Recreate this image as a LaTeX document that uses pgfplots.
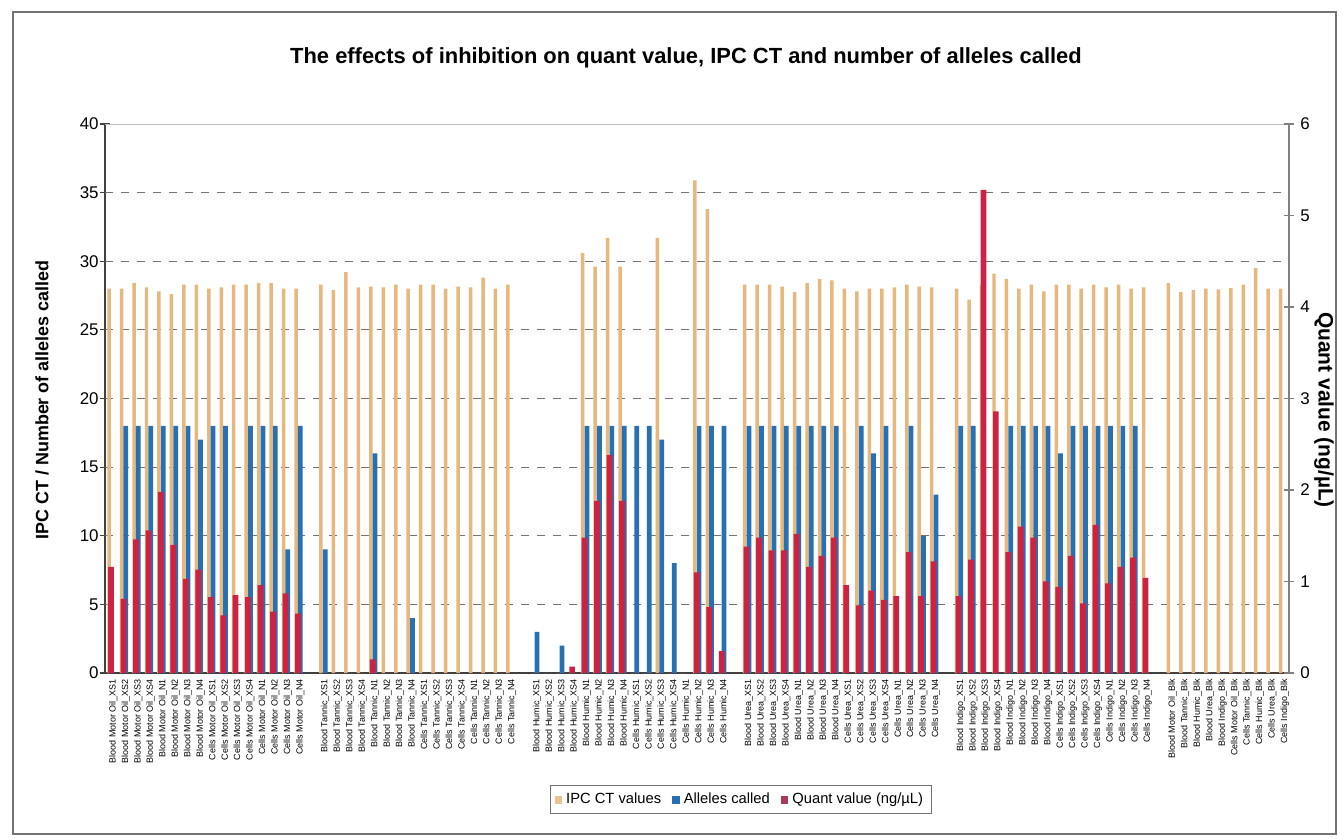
\documentclass[border=0pt]{standalone}
\usepackage{pgfplots}
\pgfplotsset{compat=1.18}
\usepackage{pgfplotstable}
\usepackage{fontspec}
\setmainfont{Liberation Sans}

\definecolor{ipc}{RGB}{231,184,126}
\definecolor{alle}{RGB}{40,112,180}
\definecolor{quant}{RGB}{204,34,68}
\definecolor{quantleg}{RGB}{170,60,90}

% x = slot position (empty slots separate the inhibitor groups)
\pgfplotstableread{
x  ipc   alleles quant
0  28.0  0   1.16
1  28.0  18  0.81
2  28.4  18  1.46
3  28.1  18  1.56
4  27.8  18  1.98
5  27.6  18  1.40
6  28.3  18  1.03
7  28.3  17  1.13
8  28.0  18  0.83
9  28.1  18  0.63
10 28.3  0   0.85
11 28.3  18  0.83
12 28.4  18  0.96
13 28.4  18  0.67
14 28.0  9   0.87
15 28.0  18  0.65
17 28.3  9   0
18 27.9  0   0
19 29.2  0   0
20 28.1  0   0
21 28.15 16  0.15
22 28.1  0   0
23 28.3  0   0
24 28.0  4   0
25 28.3  0   0
26 28.3  0   0
27 28.0  0   0
28 28.15 0   0
29 28.1  0   0
30 28.8  0   0
31 28.0  0   0
32 28.3  0   0
34 0     3   0
35 0     0   0
36 0     2   0
37 0     0   0.07
38 30.6  18  1.48
39 29.6  18  1.88
40 31.7  18  2.38
41 29.6  18  1.88
42 0     18  0
43 0     18  0
44 31.7  17  0
45 0     8   0
46 0     0   0
47 35.9  18  1.10
48 33.8  18  0.72
49 0     18  0.24
51 28.3  18  1.38
52 28.3  18  1.48
53 28.3  18  1.34
54 28.15 18  1.34
55 27.75 18  1.52
56 28.4  18  1.16
57 28.7  18  1.28
58 28.6  18  1.48
59 28.0  0   0.96
60 27.8  18  0.74
61 28.0  16  0.90
62 28.0  18  0.80
63 28.1  0   0.84
64 28.3  18  1.32
65 28.15 10  0.84
66 28.1  13  1.22
68 28.0  18  0.84
69 27.2  18  1.24
70 28.3  0   5.28
71 29.1  0   2.86
72 28.7  18  1.32
73 28.0  18  1.60
74 28.3  18  1.48
75 27.8  18  1.00
76 28.3  16  0.94
77 28.3  18  1.28
78 28.0  18  0.76
79 28.3  18  1.62
80 28.1  18  0.98
81 28.3  18  1.16
82 28.0  18  1.26
83 28.1  0   1.04
85 28.4  0   0
86 27.75 0   0
87 27.9  0   0
88 28.0  0   0
89 27.95 0   0
90 28.05 0   0
91 28.3  0   0
92 29.5  0   0
93 28.0  0   0
94 28.0  0   0
}\datatable

\begin{document}
\begin{tikzpicture}
\path[use as bounding box] (0,0) rectangle (671.5bp,419.5bp);
\fill[white] (0,0) rectangle (671.5bp,419.5bp);
\draw[black!55, line width=0.7bp] (6.5bp,2.5bp) rectangle (668bp,413.5bp);

% primary axis: IPC CT and alleles called
\begin{axis}[
  at={(52.5bp,83bp)}, anchor=south west,
  scale only axis, width=592bp, height=274.5bp,
  xmin=-0.5, xmax=94.5, ymin=0, ymax=40,
  axis x line*=bottom, axis y line*=left,
  axis line style={draw=black!75, line width=0.6bp},
  ytick={0,5,...,40},
  tick align=center, major tick length=5bp,
  ytick style={black!75, line width=0.6bp},
  xtick=data,
  xtick style={draw=none},
  xticklabels={Blood Motor Oil\_XS1, Blood Motor Oil\_XS2, Blood Motor Oil\_XS3, Blood Motor Oil\_XS4, Blood Motor Oil\_N1, Blood Motor Oil\_N2, Blood Motor Oil\_N3, Blood Motor Oil\_N4, Cells Motor Oil\_XS1, Cells Motor Oil\_XS2, Cells Motor Oil\_XS3, Cells Motor Oil\_XS4, Cells Motor Oil\_N1, Cells Motor Oil\_N2, Cells Motor Oil\_N3, Cells Motor Oil\_N4,
    Blood Tannic\_XS1, Blood Tannic\_XS2, Blood Tannic\_XS3, Blood Tannic\_XS4, Blood Tannic\_N1, Blood Tannic\_N2, Blood Tannic\_N3, Blood Tannic\_N4, Cells Tannic\_XS1, Cells Tannic\_XS2, Cells Tannic\_XS3, Cells Tannic\_XS4, Cells Tannic\_N1, Cells Tannic\_N2, Cells Tannic\_N3, Cells Tannic\_N4,
    Blood Humic\_XS1, Blood Humic\_XS2, Blood Humic\_XS3, Blood Humic\_XS4, Blood Humic\_N1, Blood Humic\_N2, Blood Humic\_N3, Blood Humic\_N4, Cells Humic\_XS1, Cells Humic\_XS2, Cells Humic\_XS3, Cells Humic\_XS4, Cells Humic\_N1, Cells Humic\_N2, Cells Humic\_N3, Cells Humic\_N4,
    Blood Urea\_XS1, Blood Urea\_XS2, Blood Urea\_XS3, Blood Urea\_XS4, Blood Urea\_N1, Blood Urea\_N2, Blood Urea\_N3, Blood Urea\_N4, Cells Urea\_XS1, Cells Urea\_XS2, Cells Urea\_XS3, Cells Urea\_XS4, Cells Urea\_N1, Cells Urea\_N2, Cells Urea\_N3, Cells Urea\_N4,
    Blood Indigo\_XS1, Blood Indigo\_XS2, Blood Indigo\_XS3, Blood Indigo\_XS4, Blood Indigo\_N1, Blood Indigo\_N2, Blood Indigo\_N3, Blood Indigo\_N4, Cells Indigo\_XS1, Cells Indigo\_XS2, Cells Indigo\_XS3, Cells Indigo\_XS4, Cells Indigo\_N1, Cells Indigo\_N2, Cells Indigo\_N3, Cells Indigo\_N4,
    Blood Motor Oil\_Blk, Blood Tannic\_Blk, Blood Humic\_Blk, Blood Urea\_Blk, Blood Indigo\_Blk, Cells Motor Oil\_Blk, Cells Tannic\_Blk, Cells Humic\_Blk, Cells Urea\_Blk, Cells Indigo\_Blk},
  xticklabel style={rotate=90, anchor=east, font=\fontsize{4.5}{5}\selectfont, inner sep=0.5pt, yshift=-1bp},
  yticklabel style={font=\fontsize{8.5}{10}\selectfont, inner sep=1pt, xshift=0.5bp},
  /pgf/number format/assume math mode=true,
  clip=false,
]
\draw[black!25, line width=0.5bp] (axis cs:-0.5,40) -- (axis cs:94.5,40);
\pgfplotsinvokeforeach{5,10,15,20,25,30,35}{
  \draw[black!55, line width=0.5bp, dash pattern=on 4bp off 4bp] (axis cs:-0.5,#1) -- (axis cs:94.5,#1);
}
\addplot[ybar, bar width=0.28, bar shift=-0.17, fill=ipc, draw=none] table[x=x, y=ipc] {\datatable};
\addplot[ybar, bar width=0.38, bar shift=0.17, fill=alle, draw=none] table[x=x, y=alleles] {\datatable};
\end{axis}

% secondary axis: quant value
\begin{axis}[
  at={(52.5bp,83bp)}, anchor=south west,
  scale only axis, width=592bp, height=274.5bp,
  xmin=-0.5, xmax=94.5, ymin=0, ymax=6,
  axis x line=none, axis y line*=right,
  axis line style={draw=black!50, line width=0.6bp},
  ytick={0,1,...,6},
  tick align=center, major tick length=5bp,
  ytick style={black!50, line width=0.6bp},
  yticklabel style={font=\fontsize{8.5}{10}\selectfont, inner sep=1pt, xshift=2bp},
  /pgf/number format/assume math mode=true,
  legend image code/.code={\fill[#1] (0bp,-1.9bp) rectangle (3.8bp,1.9bp);},
  legend style={at={(0.537,-0.231)}, anchor=center, legend columns=-1,
    draw=black!55, line width=0.5bp, font=\fontsize{7.4}{8.5}\selectfont,
    inner xsep=2bp, inner ysep=1.5bp,
    /tikz/every even column/.append style={column sep=3.5bp}},
  legend cell align=left,
]
\addlegendimage{fill=ipc!85, draw=none}
\addlegendentry{IPC CT values}
\addlegendimage{fill=alle, draw=none}
\addlegendentry{Alleles called}
\addplot[ybar, bar width=0.46, bar shift=-0.02, fill=quant, draw=none,
  legend image code/.code={\fill[quantleg] (0bp,-1.9bp) rectangle (3.8bp,1.9bp);}]
  table[x=x, y=quant] {\datatable};
\addlegendentry{Quant value (ng/µL)}
\end{axis}

\node[font=\bfseries\fontsize{11}{13}\selectfont] at (343bp,390.5bp)
  {The effects of inhibition on quant value, IPC CT and number of alleles called};
\node[font=\bfseries\fontsize{9}{11}\selectfont, rotate=90] at (21bp,219.5bp)
  {IPC CT / Number of alleles called};
\node[font=\bfseries\fontsize{10.5}{12}\selectfont, rotate=-90] at (662bp,214.5bp)
  {Quant value (ng/µL)};
\end{tikzpicture}
\end{document}
